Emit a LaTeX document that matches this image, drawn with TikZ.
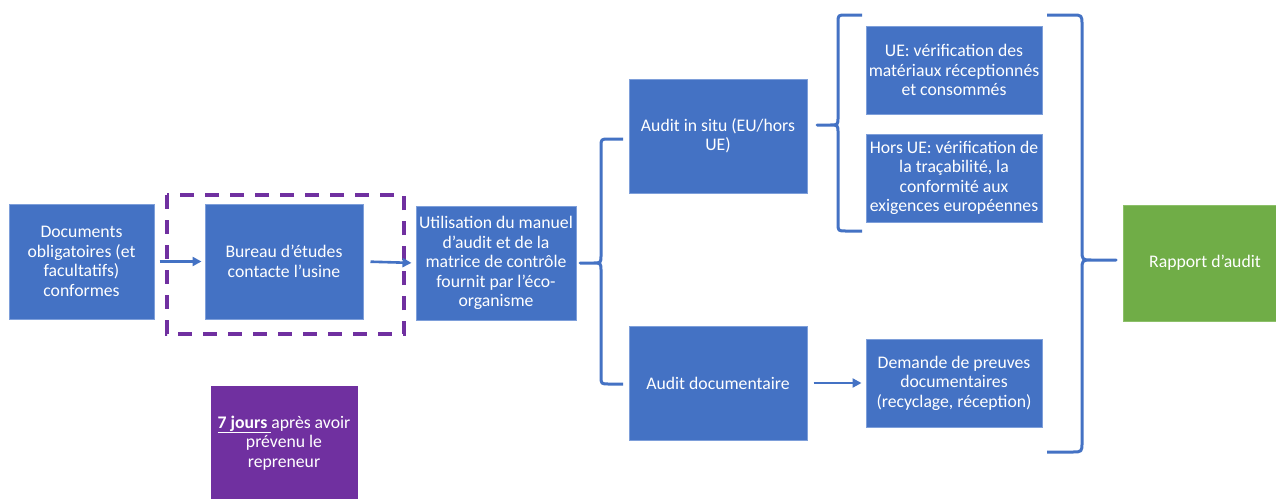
\documentclass[tikz,border=0pt]{standalone}
\usepackage{fontspec}
\setmainfont{Carlito}
\usetikzlibrary{arrows.meta,calc}
\definecolor{boxblue}{HTML}{4472C4}
\definecolor{boxedge}{HTML}{7E9FDA}
\definecolor{boxgreen}{HTML}{70AD47}
\definecolor{greenedge}{HTML}{8CC069}
\definecolor{boxpurple}{HTML}{7030A0}
\tikzset{
  bluebox/.style={rectangle, fill=boxblue, draw=boxedge, line width=1pt, text=white,
    align=center, inner sep=0pt, font=\fontsize{17.7}{19.5}\selectfont},
  greenbox/.style={bluebox, fill=boxgreen, draw=greenedge},
  purplebox/.style={bluebox, fill=boxpurple, draw=boxpurple},
  flowarrow/.style={draw=boxblue, line width=2.6pt, -{Triangle[length=9pt,width=9pt]}},
  bracestroke/.style={draw=boxblue, line width=3pt, line join=round},
  dashframe/.style={draw=boxpurple, line width=3.3pt, dash pattern=on 14pt off 11pt}
}
\begin{document}
\begin{tikzpicture}[x=1pt,y=-1pt]
\useasboundingbox (0,0) rectangle (1276,498);
\fill[white] (0,0) rectangle (1276,498);

\node[bluebox, minimum width=145pt, minimum height=115pt] (doc) at (81.5,261.5)
  {Documents\\obligatoires (et\\facultatifs)\\conformes};
\node[bluebox, minimum width=158pt, minimum height=115pt] (bureau) at (284,261.5)
  {Bureau d’études\\contacte l’usine};
\node[bluebox, minimum width=160pt, minimum height=114pt] (util) at (496,263)
  {Utilisation du manuel\\d’audit et de la\\matrice de contrôle\\fournit par l’éco-\\organisme};
\node[bluebox, minimum width=178pt, minimum height=114pt] (insitu) at (718,136)
  {Audit in situ (EU/hors\\UE)};
\node[bluebox, minimum width=178pt, minimum height=114pt] (adoc) at (718,383)
  {Audit documentaire};
\node[bluebox, minimum width=176pt, minimum height=88pt] (ue) at (954,70)
  {UE: vérification des\\matériaux réceptionnés\\et consommés};
\node[bluebox, minimum width=176pt, minimum height=88pt] (hors) at (954,178)
  {Hors UE: vérification de\\la traçabilité, la\\conformité aux\\exigences européennes};
\node[bluebox, minimum width=176pt, minimum height=88pt] (dem) at (954,383)
  {Demande de preuves\\documentaires\\(recyclage, réception)};
\node[greenbox, minimum width=164pt, minimum height=116pt] (rapport) at (1205,263)
  {Rapport d’audit};
\node[purplebox, minimum width=146pt, minimum height=114pt] (delay) at (284,443)
  {\underline{\textbf{7 jours} }après avoir\\prévenu le\\repreneur};

% dashed frame around the design office step
\draw[dashframe] (167,195) rectangle (404,334);

% arrows
\draw[flowarrow, shorten <=5pt, shorten >=3pt] (doc.east) -- (bureau.west);
\draw[flowarrow, shorten <=7pt, shorten >=4pt] (bureau.east) -- (util.west);
\draw[flowarrow, shorten <=6pt, shorten >=4pt] (adoc.east) -- (dem.west);

% brace 1: util -> two audits
\draw[bracestroke] (623,139) -- (609,139) .. controls (601,139) .. (601,147)
  -- (601,255) .. controls (601,263) .. (593,263) -- (580,263)
  -- (593,263) .. controls (601,263) .. (601,271)
  -- (601,376) .. controls (601,384) .. (609,384) -- (623,384);
% brace 2: in situ -> UE / hors UE
\draw[bracestroke] (862,15) -- (846,15) .. controls (838,15) .. (838,23)
  -- (838,117) .. controls (838,125) .. (830,125) -- (817,125)
  -- (830,125) .. controls (838,125) .. (838,133)
  -- (838,223) .. controls (838,231) .. (846,231) -- (862,231);
% brace 3: all -> rapport
\draw[bracestroke] (1047,15) -- (1072,15) .. controls (1082,15) .. (1082,25)
  -- (1082,250) .. controls (1082,260) .. (1092,260) -- (1116,260)
  -- (1092,260) .. controls (1082,260) .. (1082,270)
  -- (1082,442) .. controls (1082,452) .. (1072,452) -- (1047,452);
\end{tikzpicture}
\end{document}
